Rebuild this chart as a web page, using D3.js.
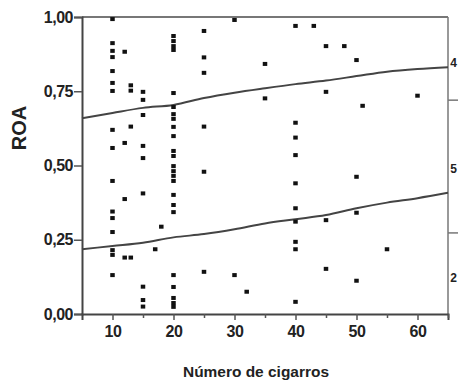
<!DOCTYPE html>
<html>
<head>
<meta charset="utf-8">
<script src="https://cdn.jsdelivr.net/npm/d3@7"></script>
<style>
    html, body { margin: 0; padding: 0; background: #fff; }
    svg { display: block; }
    .tick-label { font-family: "Liberation Sans", Arial, sans-serif; font-weight: bold; fill: #222; }
</style>
</head>
<body>
<div id="chart"></div>
<script>
// --- Data ---
const cigarros = [10, 12, 13, 15, 17, 18, 20, 25, 30, 32, 35, 40, 43, 45, 48, 50, 51, 55, 60];
const roaByCigarros = [
    [0.993, 0.912, 0.886, 0.865, 0.818, 0.778, 0.751, 0.620, 0.559, 0.448, 0.345, 0.323, 0.276, 0.215, 0.199, 0.131],
    [0.883, 0.576, 0.387, 0.190],
    [0.770, 0.752, 0.631, 0.190],
    [0.748, 0.721, 0.670, 0.566, 0.525, 0.406, 0.092, 0.047, 0.025],
    [0.218],
    [0.294],
    [0.936, 0.919, 0.902, 0.889, 0.744, 0.697, 0.673, 0.657, 0.630, 0.599, 0.549, 0.532,
     0.498, 0.481, 0.465, 0.448, 0.401, 0.367, 0.343, 0.131, 0.091, 0.054, 0.037, 0.024],
    [0.953, 0.864, 0.812, 0.631, 0.479, 0.142],
    [0.990, 0.131],
    [0.075],
    [0.842, 0.726],
    [0.970, 0.644, 0.594, 0.535, 0.440, 0.356, 0.311, 0.243, 0.218, 0.041],
    [0.970],
    [0.902, 0.748, 0.316, 0.152],
    [0.902],
    [0.855, 0.462, 0.341, 0.112],
    [0.701],
    [0.218],
    [0.735]
];

// interval curves
const bandX = [5, 10, 15, 20, 25, 30, 35, 40, 45, 50, 55, 60, 65];
const bandUpper = [0.659, 0.677, 0.694, 0.704, 0.727, 0.745, 0.760, 0.774, 0.786, 0.801, 0.816, 0.825, 0.831];
const bandLower = [0.218, 0.229, 0.240, 0.258, 0.269, 0.285, 0.305, 0.319, 0.333, 0.356, 0.375, 0.390, 0.408];

const yTicks = [0, 0.25, 0.5, 0.75, 1];
const xTicks = [10, 20, 30, 40, 50, 60];
const xMinorTicks = [15, 25, 35, 45, 55, 65];

// labels of the neighbouring panel, squeezed at the edge
const sideLabels = ['4', '5', '2'];
const sideLabelY = [0.845, 0.49, 0.121];
const sideTickY = [0.72, 0.273];

// --- Layout ---
const width = 458, height = 384;
const x = d3.scaleLinear().domain([5, 65]).range([82, 448]);
const y = d3.scaleLinear().domain([0, 1]).range([314, 17]);

const svg = d3.select('#chart').append('svg')
    .attr('width', width)
    .attr('height', height);

const points = cigarros.flatMap((c, i) => roaByCigarros[i].map(v => ({ c, v })));

// frame (top and right)
svg.append('line')
    .attr('x1', x(5)).attr('x2', x(65))
    .attr('y1', y(1)).attr('y2', y(1))
    .attr('stroke', '#777').attr('stroke-width', 2);
svg.append('line')
    .attr('x1', x(65)).attr('x2', x(65))
    .attr('y1', y(1)).attr('y2', y(0))
    .attr('stroke', '#777').attr('stroke-width', 1.5);

// right side ticks + labels
svg.selectAll('.side-tick')
    .data(sideTickY)
    .enter().append('line')
    .attr('x1', x(65)).attr('x2', x(65) + 10)
    .attr('y1', d => y(d)).attr('y2', d => y(d))
    .attr('stroke', '#777').attr('stroke-width', 1.5);
svg.selectAll('.side-label')
    .data(sideLabels)
    .enter().append('text')
    .attr('class', 'tick-label')
    .attr('x', width - 1)
    .attr('text-anchor', 'end')
    .attr('y', (d, i) => y(sideLabelY[i]))
    .attr('dy', '0.35em')
    .style('font-size', '12px')
    .text(d => d);

// --- Axes ---
const fmt = d => d3.format('.2f')(d).replace('.', ',');

const yAxis = svg.append('g')
    .attr('transform', `translate(${x(5)},0)`)
    .call(d3.axisLeft(y).tickValues(yTicks).tickFormat(fmt).tickSize(8).tickPadding(1));

const xAxis = svg.append('g')
    .attr('transform', `translate(0,${y(0)})`)
    .call(d3.axisBottom(x).tickValues(xTicks).tickFormat(d3.format('d')).tickSize(6).tickPadding(6));

svg.append('g')
    .attr('transform', `translate(0,${y(0)})`)
    .call(d3.axisBottom(x).tickValues(xMinorTicks).tickFormat('').tickSize(4))
    .call(g => g.select('.domain').remove());

[yAxis, xAxis].forEach(g => {
    g.select('.domain').attr('stroke', '#444').attr('stroke-width', 2);
    g.selectAll('.tick text')
        .attr('class', 'tick-label')
        .style('font-size', '16px')
        .style('letter-spacing', '-0.5px');
});
svg.selectAll('.tick line').attr('stroke', '#555').attr('stroke-width', 1.5);

// axis titles
svg.append('text')
    .attr('class', 'tick-label')
    .attr('transform', `translate(26,128) rotate(-90)`)
    .attr('text-anchor', 'middle')
    .style('font-size', '20px')
    .text('ROA');

svg.append('text')
    .attr('class', 'tick-label')
    .attr('x', 256)
    .attr('y', 377)
    .attr('text-anchor', 'middle')
    .attr('textLength', 146)
    .attr('lengthAdjust', 'spacingAndGlyphs')
    .style('font-size', '15px')
    .text('Número de cigarros');

// --- Curves ---
const curve = d3.line()
    .x(d => x(d[0]))
    .y(d => y(d[1]))
    .curve(d3.curveMonotoneX);

[bandUpper, bandLower].forEach(band => {
    svg.append('path')
        .datum(bandX.map((bx, i) => [bx, band[i]]))
        .attr('d', curve)
        .attr('fill', 'none')
        .attr('stroke', '#444')
        .attr('stroke-width', 2);
});

// --- Points ---
svg.selectAll('.pt')
    .data(points)
    .enter().append('rect')
    .attr('class', 'pt')
    .attr('x', d => x(d.c) - 2.25)
    .attr('y', d => y(d.v) - 2)
    .attr('width', 4.5)
    .attr('height', 4)
    .attr('fill', '#111');
</script>
</body>
</html>
